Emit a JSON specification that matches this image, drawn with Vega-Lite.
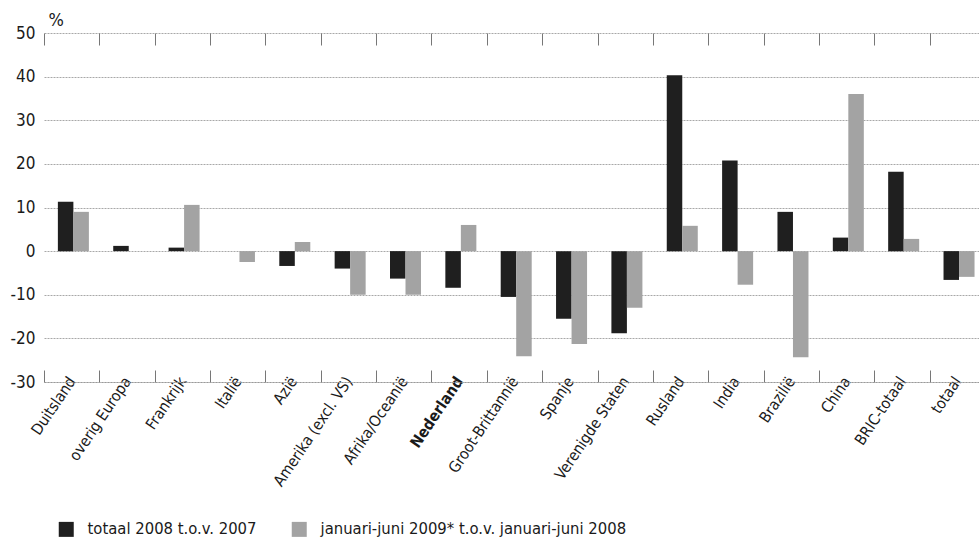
{
  "$schema": "https://vega.github.io/schema/vega-lite/v6.json",
  "width": 935,
  "height": 349,
  "autosize": {"type": "none"},
  "padding": {"left": 44, "top": 33, "right": 0, "bottom": 157},
  "background": "white",
  "config": {
    "font": "DejaVu Sans Condensed, sans-serif",
    "view": {"stroke": null}
  },
  "data": {
    "values": [
      {"land": "Duitsland", "reeks": "totaal 2008 t.o.v. 2007", "waarde": 11.3},
      {"land": "Duitsland", "reeks": "januari-juni 2009* t.o.v. januari-juni 2008", "waarde": 9.0},
      {"land": "overig Europa", "reeks": "totaal 2008 t.o.v. 2007", "waarde": 1.2},
      {"land": "Frankrijk", "reeks": "totaal 2008 t.o.v. 2007", "waarde": 0.8},
      {"land": "Frankrijk", "reeks": "januari-juni 2009* t.o.v. januari-juni 2008", "waarde": 10.6},
      {"land": "Italië", "reeks": "januari-juni 2009* t.o.v. januari-juni 2008", "waarde": -2.5},
      {"land": "Azië", "reeks": "totaal 2008 t.o.v. 2007", "waarde": -3.4},
      {"land": "Azië", "reeks": "januari-juni 2009* t.o.v. januari-juni 2008", "waarde": 2.1},
      {"land": "Amerika (excl. VS)", "reeks": "totaal 2008 t.o.v. 2007", "waarde": -4.0},
      {"land": "Amerika (excl. VS)", "reeks": "januari-juni 2009* t.o.v. januari-juni 2008", "waarde": -10.0},
      {"land": "Afrika/Oceanië", "reeks": "totaal 2008 t.o.v. 2007", "waarde": -6.3},
      {"land": "Afrika/Oceanië", "reeks": "januari-juni 2009* t.o.v. januari-juni 2008", "waarde": -10.0},
      {"land": "Nederland", "reeks": "totaal 2008 t.o.v. 2007", "waarde": -8.4},
      {"land": "Nederland", "reeks": "januari-juni 2009* t.o.v. januari-juni 2008", "waarde": 6.0},
      {"land": "Groot-Brittannië", "reeks": "totaal 2008 t.o.v. 2007", "waarde": -10.5},
      {"land": "Groot-Brittannië", "reeks": "januari-juni 2009* t.o.v. januari-juni 2008", "waarde": -24.1},
      {"land": "Spanje", "reeks": "totaal 2008 t.o.v. 2007", "waarde": -15.5},
      {"land": "Spanje", "reeks": "januari-juni 2009* t.o.v. januari-juni 2008", "waarde": -21.3},
      {"land": "Verenigde Staten", "reeks": "totaal 2008 t.o.v. 2007", "waarde": -18.8},
      {"land": "Verenigde Staten", "reeks": "januari-juni 2009* t.o.v. januari-juni 2008", "waarde": -13.0},
      {"land": "Rusland", "reeks": "totaal 2008 t.o.v. 2007", "waarde": 40.3},
      {"land": "Rusland", "reeks": "januari-juni 2009* t.o.v. januari-juni 2008", "waarde": 5.8},
      {"land": "India", "reeks": "totaal 2008 t.o.v. 2007", "waarde": 20.8},
      {"land": "India", "reeks": "januari-juni 2009* t.o.v. januari-juni 2008", "waarde": -7.7},
      {"land": "Brazilië", "reeks": "totaal 2008 t.o.v. 2007", "waarde": 9.0},
      {"land": "Brazilië", "reeks": "januari-juni 2009* t.o.v. januari-juni 2008", "waarde": -24.3},
      {"land": "China", "reeks": "totaal 2008 t.o.v. 2007", "waarde": 3.1},
      {"land": "China", "reeks": "januari-juni 2009* t.o.v. januari-juni 2008", "waarde": 36.0},
      {"land": "BRIC-totaal", "reeks": "totaal 2008 t.o.v. 2007", "waarde": 18.2},
      {"land": "BRIC-totaal", "reeks": "januari-juni 2009* t.o.v. januari-juni 2008", "waarde": 2.8},
      {"land": "totaal", "reeks": "totaal 2008 t.o.v. 2007", "waarde": -6.6},
      {"land": "totaal", "reeks": "januari-juni 2009* t.o.v. januari-juni 2008", "waarde": -5.9}
    ]
  },
  "resolve": {"axis": {"x": "independent"}},
  "layer": [
    {
      "mark": {"type": "bar"},
      "encoding": {
        "x": {
          "field": "land",
          "type": "nominal",
          "sort": ["Duitsland", "overig Europa", "Frankrijk", "Italië", "Azië", "Amerika (excl. VS)", "Afrika/Oceanië", "Nederland", "Groot-Brittannië", "Spanje", "Verenigde Staten", "Rusland", "India", "Brazilië", "China", "BRIC-totaal", "totaal"],
          "scale": {"range": [0, 941], "paddingInner": 0, "paddingOuter": 0},
          "axis": {
            "orient": "bottom",
            "title": null,
            "domain": true,
            "domainColor": "#9a9a9a",
            "domainDash": [2, 1],
            "ticks": true,
            "tickBand": "extent",
            "tickSize": -12,
            "tickColor": "#777777",
            "grid": false,
            "labelAngle": -56,
            "labelAlign": "right",
            "labelBaseline": "middle",
            "labelFontSize": 15.5,
            "labelPadding": 8,
            "labelColor": "#1a1a1a",
            "labelFontWeight": {"condition": {"test": "datum.value === 'Nederland'", "value": "bold"}, "value": "normal"}
          }
        },
        "xOffset": {
          "field": "reeks",
          "type": "nominal",
          "sort": ["totaal 2008 t.o.v. 2007", "januari-juni 2009* t.o.v. januari-juni 2008"],
          "scale": {"paddingInner": 0, "paddingOuter": 0.785, "align": 0.57}
        },
        "y": {
          "field": "waarde",
          "type": "quantitative",
          "scale": {"domain": [-30, 50], "nice": false},
          "axis": {
            "values": [-30, -20, -10, 0, 10, 20, 30, 40, 50],
            "labelExpr": "'' + datum.value",
            "grid": true,
            "gridColor": "#a8a8a8",
            "gridDash": [2, 1],
            "domain": false,
            "ticks": false,
            "labelFontSize": 17,
            "labelPadding": 9,
            "labelColor": "#1a1a1a",
            "title": "%",
            "titleAngle": 0,
            "titleAlign": "left",
            "titleBaseline": "alphabetic",
            "titleX": 4,
            "titleY": -8,
            "titleFontSize": 18,
            "titleFontWeight": "normal",
            "titleColor": "#1a1a1a"
          }
        },
        "color": {
          "field": "reeks",
          "type": "nominal",
          "sort": ["totaal 2008 t.o.v. 2007", "januari-juni 2009* t.o.v. januari-juni 2008"],
          "scale": {"range": ["#1f1f1f", "#a3a3a3"]},
          "legend": {
            "orient": "none",
            "legendX": 14,
            "legendY": 488,
            "direction": "horizontal",
            "title": null,
            "symbolType": "square",
            "symbolSize": 225,
            "symbolStrokeWidth": 0,
            "symbolOpacity": 1,
            "labelFontSize": 16.5,
            "labelOffset": 13,
            "labelColor": "#1a1a1a",
            "columnPadding": 34,
            "labelLimit": 400
          }
        }
      }
    },
    {
      "mark": {"type": "bar", "opacity": 0},
      "encoding": {
        "x": {
          "field": "land",
          "type": "nominal",
          "sort": ["Duitsland", "overig Europa", "Frankrijk", "Italië", "Azië", "Amerika (excl. VS)", "Afrika/Oceanië", "Nederland", "Groot-Brittannië", "Spanje", "Verenigde Staten", "Rusland", "India", "Brazilië", "China", "BRIC-totaal", "totaal"],
          "axis": {
            "orient": "top",
            "title": null,
            "domain": false,
            "labels": false,
            "ticks": true,
            "tickBand": "extent",
            "tickSize": -12,
            "tickColor": "#777777",
            "grid": false
          }
        },
        "y": {"field": "waarde", "type": "quantitative"}
      }
    }
  ]
}
